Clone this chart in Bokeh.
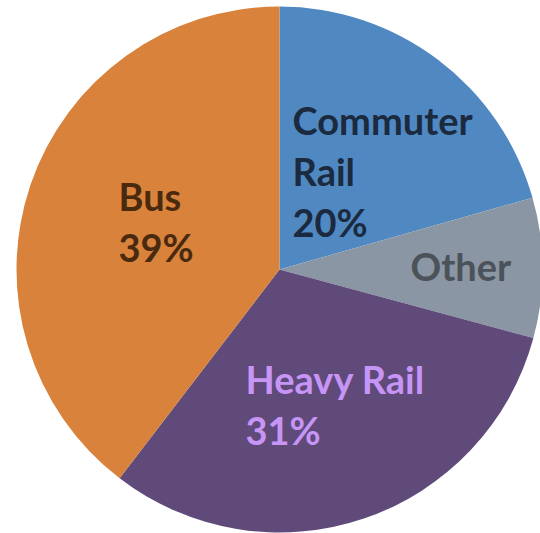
import numpy as np
from bokeh.plotting import figure
from bokeh.models import ColumnDataSource
from bokeh.core.properties import value
from bokeh.embed import file_html
from bokeh.resources import INLINE

# ---- data ----
categories = ["Commuter Rail", "Other", "Heavy Rail", "Bus"]
shares = [20.6, 8.6, 31.2, 39.6]
colors = ["#5088C2", "#8A96A3", "#5F4A7A", "#D9823C"]
label_lines = [["Commuter", "Rail", "20%"], ["Other"], ["Heavy Rail", "31%"], ["Bus", "39%"]]
label_colors = ["#1B2A3E", "#4B5259", "#C795F6", "#4A2A0F"]

# ---- layout (pixel-like data coordinates, y up) ----
W, H = 540, 533
cx, cy, R = 279, H - 269, 263
label_anchor = [(292, H - 119), (410, H - 265), (245, H - 378), (118, H - 195)]
line_gap = 51
font_px = "38px"

frac = np.array(shares, dtype=float) / np.sum(shares)
ends = np.pi / 2 - 2 * np.pi * np.cumsum(frac)
starts = np.concatenate([[np.pi / 2], ends[:-1]])

src = ColumnDataSource(dict(
    x=[cx] * len(categories), y=[cy] * len(categories),
    start=starts, end=ends, color=colors, cat=categories,
))

p = figure(width=W, height=H, x_range=(0, W), y_range=(0, H),
           output_backend="svg", toolbar_location=None,
           min_border=0, outline_line_color=None, background_fill_color="white",
           border_fill_color="white")
p.axis.visible = False
p.grid.visible = False

p.wedge(x="x", y="y", radius=R, radius_units="data", start_angle="start",
        end_angle="end", direction="clock", fill_color="color",
        line_color=None, source=src)

tx, ty, tt, tc = [], [], [], []
for lines, (ax, ay), col in zip(label_lines, label_anchor, label_colors):
    for i, ln in enumerate(lines):
        tx.append(ax)
        ty.append(ay - i * line_gap)
        tt.append(ln)
        tc.append(col)

p.text(x=tx, y=ty, text=tt, text_color=tc, text_font=value("Lato"),
       text_font_style="bold", text_font_size=font_px,
       text_baseline="alphabetic", text_align="left")

open("out.html", "w").write(file_html(p, INLINE))
